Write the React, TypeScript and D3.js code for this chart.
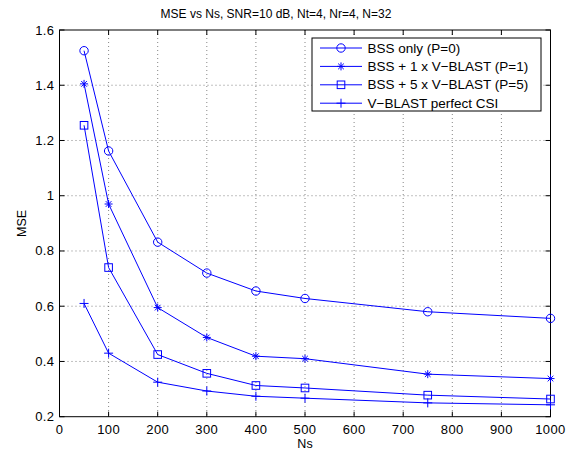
import React from 'react';
import * as d3 from 'd3';

const ns = [50, 100, 200, 300, 400, 500, 750, 1000];
const bssOnly = [1.525, 1.162, 0.832, 0.72, 0.655, 0.628, 0.58, 0.556];
const bss1 = [1.405, 0.97, 0.595, 0.487, 0.419, 0.41, 0.354, 0.338];
const bss5 = [1.255, 0.74, 0.425, 0.357, 0.313, 0.304, 0.278, 0.264];
const vblast = [0.61, 0.43, 0.325, 0.293, 0.274, 0.267, 0.25, 0.243];
const seriesNames = ['BSS only (P=0)', 'BSS + 1 x V\u2212BLAST (P=1)', 'BSS + 5 x V\u2212BLAST (P=5)', 'V\u2212BLAST perfect CSI'];
const markers = ['circle', 'star', 'square', 'plus'];
const xTicks = [0, 100, 200, 300, 400, 500, 600, 700, 800, 900, 1000];
const yTicks = [0.2, 0.4, 0.6, 0.8, 1, 1.2, 1.4, 1.6];

const W = 579, H = 456;
const left = 59.5, right = 550.5, top = 30, bottom = 416.7;
const blue = '#0000ff';
const font = 'Liberation Sans, Arial, sans-serif';

function Marker({ type, x, y }: { type: string; x: number; y: number }) {
  if (type === 'circle') return <circle cx={x} cy={y} r={4.2} fill="none" stroke={blue} strokeWidth={1} />;
  if (type === 'square') return <rect x={x - 3.8} y={y - 3.8} width={7.6} height={7.6} fill="none" stroke={blue} strokeWidth={1} />;
  if (type === 'plus') return <path d={`M${x - 4.5},${y}H${x + 4.5}M${x},${y - 4.5}V${y + 4.5}`} stroke={blue} strokeWidth={1} />;
  const r = 4;
  const d = [0, 45, 90, 135].map(a => {
    const rad = (a * Math.PI) / 180;
    return `M${x - r * Math.cos(rad)},${y - r * Math.sin(rad)}L${x + r * Math.cos(rad)},${y + r * Math.sin(rad)}`;
  }).join('');
  return <path d={d} stroke={blue} strokeWidth={1} />;
}

export default function App() {
  const xScale = d3.scaleLinear().domain([0, 1000]).range([left, right]);
  const yScale = d3.scaleLinear().domain([0.2, 1.6]).range([bottom, top]);
  const all = [bssOnly, bss1, bss5, vblast];
  const line = d3.line<number>().x((_, i) => xScale(ns[i])).y(d => yScale(d));

  return (
    <svg width={W} height={H} style={{ position: 'absolute', left: 0, top: 0, background: '#fff' }} fontFamily={font}>
      <rect width={W} height={H} fill="#fff" />
      {/* grid */}
      {xTicks.slice(1, -1).map(t => (
        <line key={'gx' + t} x1={xScale(t)} x2={xScale(t)} y1={top} y2={bottom} stroke="#333" strokeWidth={0.6} strokeDasharray="1,3" />
      ))}
      {yTicks.slice(1, -1).map(t => (
        <line key={'gy' + t} x1={left} x2={right} y1={yScale(t)} y2={yScale(t)} stroke="#333" strokeWidth={0.6} strokeDasharray="1,3" />
      ))}
      {/* ticks */}
      {xTicks.map(t => (
        <g key={'tx' + t}>
          <line x1={xScale(t)} x2={xScale(t)} y1={bottom} y2={bottom - 5} stroke="#000" />
          <line x1={xScale(t)} x2={xScale(t)} y1={top} y2={top + 5} stroke="#000" />
          <text x={xScale(t)} y={bottom + 17} textAnchor="middle" fontSize={13} letterSpacing={0.4}>{t}</text>
        </g>
      ))}
      {yTicks.map(t => (
        <g key={'ty' + t}>
          <line x1={left} x2={left + 5} y1={yScale(t)} y2={yScale(t)} stroke="#000" />
          <line x1={right} x2={right - 5} y1={yScale(t)} y2={yScale(t)} stroke="#000" />
          <text x={left - 5} y={yScale(t) + 4.5} textAnchor="end" fontSize={13} letterSpacing={0.4}>{d3.format('~g')(t)}</text>
        </g>
      ))}
      <rect x={left} y={top} width={right - left} height={bottom - top} fill="none" stroke="#000" strokeWidth={1} />
      {/* series */}
      {all.map((s, k) => (
        <g key={'s' + k}>
          <path d={line(s) || ''} fill="none" stroke={blue} strokeWidth={1} />
          {s.map((v, i) => <Marker key={i} type={markers[k]} x={xScale(ns[i])} y={yScale(v)} />)}
        </g>
      ))}
      {/* labels */}
      <text x={276} y={18} textAnchor="middle" fontSize={12}>MSE vs Ns, SNR=10 dB, Nt=4, Nr=4, N=32</text>
      <text x={305} y={448} textAnchor="middle" fontSize={12.5}>Ns</text>
      <text transform={`translate(26,${(top + bottom) / 2}) rotate(-90)`} textAnchor="middle" fontSize={12.5}>MSE</text>
      {/* legend */}
      <rect x={312} y={38} width={229} height={73} fill="#fff" stroke="#000" strokeWidth={1} />
      {seriesNames.map((name, k) => {
        const y = 48 + k * 18.4;
        return (
          <g key={'l' + k}>
            <line x1={320} x2={362} y1={y} y2={y} stroke={blue} strokeWidth={1} />
            <Marker type={markers[k]} x={341} y={y} />
            <text x={367.5} y={y + 4.5} fontSize={13.5}>{name}</text>
          </g>
        );
      })}
    </svg>
  );
}
